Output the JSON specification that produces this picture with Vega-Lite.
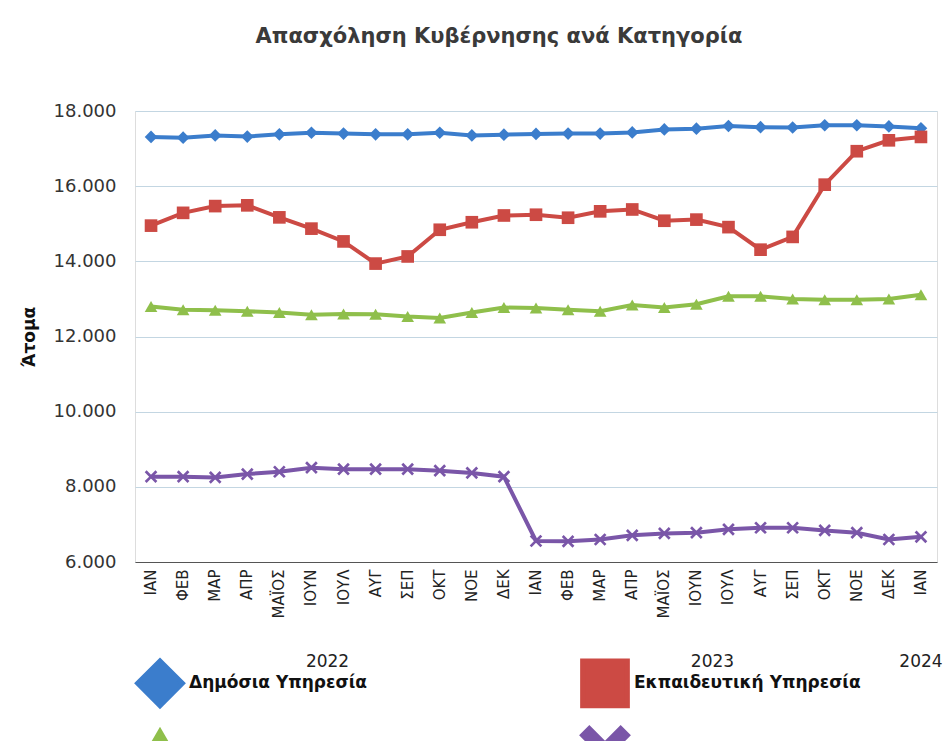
{
  "$schema": "https://vega.github.io/schema/vega-lite/v6.json",
  "width": 802,
  "height": 451,
  "padding": {"left": 20, "top": 26, "right": 9, "bottom": 0},
  "title": {
    "text": "Απασχόληση Κυβέρνησης ανά Κατηγορία",
    "font": "DejaVu Sans",
    "fontSize": 21,
    "fontWeight": "bold",
    "color": "#3a3a3a",
    "offset": 55,
    "dx": -37
  },
  "datasets": {
    "rows": [
      {"period": "2022-01", "series": "Δημόσια Υπηρεσία", "value": 17310},
      {"period": "2022-02", "series": "Δημόσια Υπηρεσία", "value": 17290},
      {"period": "2022-03", "series": "Δημόσια Υπηρεσία", "value": 17350},
      {"period": "2022-04", "series": "Δημόσια Υπηρεσία", "value": 17320},
      {"period": "2022-05", "series": "Δημόσια Υπηρεσία", "value": 17380},
      {"period": "2022-06", "series": "Δημόσια Υπηρεσία", "value": 17420},
      {"period": "2022-07", "series": "Δημόσια Υπηρεσία", "value": 17400},
      {"period": "2022-08", "series": "Δημόσια Υπηρεσία", "value": 17380},
      {"period": "2022-09", "series": "Δημόσια Υπηρεσία", "value": 17380},
      {"period": "2022-10", "series": "Δημόσια Υπηρεσία", "value": 17420},
      {"period": "2022-11", "series": "Δημόσια Υπηρεσία", "value": 17350},
      {"period": "2022-12", "series": "Δημόσια Υπηρεσία", "value": 17370},
      {"period": "2023-01", "series": "Δημόσια Υπηρεσία", "value": 17390},
      {"period": "2023-02", "series": "Δημόσια Υπηρεσία", "value": 17400},
      {"period": "2023-03", "series": "Δημόσια Υπηρεσία", "value": 17400},
      {"period": "2023-04", "series": "Δημόσια Υπηρεσία", "value": 17430},
      {"period": "2023-05", "series": "Δημόσια Υπηρεσία", "value": 17510},
      {"period": "2023-06", "series": "Δημόσια Υπηρεσία", "value": 17530},
      {"period": "2023-07", "series": "Δημόσια Υπηρεσία", "value": 17600},
      {"period": "2023-08", "series": "Δημόσια Υπηρεσία", "value": 17570},
      {"period": "2023-09", "series": "Δημόσια Υπηρεσία", "value": 17560},
      {"period": "2023-10", "series": "Δημόσια Υπηρεσία", "value": 17620},
      {"period": "2023-11", "series": "Δημόσια Υπηρεσία", "value": 17620},
      {"period": "2023-12", "series": "Δημόσια Υπηρεσία", "value": 17590},
      {"period": "2024-01", "series": "Δημόσια Υπηρεσία", "value": 17540},
      {"period": "2022-01", "series": "Εκπαιδευτική Υπηρεσία", "value": 14950},
      {"period": "2022-02", "series": "Εκπαιδευτική Υπηρεσία", "value": 15290},
      {"period": "2022-03", "series": "Εκπαιδευτική Υπηρεσία", "value": 15470},
      {"period": "2022-04", "series": "Εκπαιδευτική Υπηρεσία", "value": 15490},
      {"period": "2022-05", "series": "Εκπαιδευτική Υπηρεσία", "value": 15170},
      {"period": "2022-06", "series": "Εκπαιδευτική Υπηρεσία", "value": 14870},
      {"period": "2022-07", "series": "Εκπαιδευτική Υπηρεσία", "value": 14530},
      {"period": "2022-08", "series": "Εκπαιδευτική Υπηρεσία", "value": 13940},
      {"period": "2022-09", "series": "Εκπαιδευτική Υπηρεσία", "value": 14130},
      {"period": "2022-10", "series": "Εκπαιδευτική Υπηρεσία", "value": 14840},
      {"period": "2022-11", "series": "Εκπαιδευτική Υπηρεσία", "value": 15040},
      {"period": "2022-12", "series": "Εκπαιδευτική Υπηρεσία", "value": 15220},
      {"period": "2023-01", "series": "Εκπαιδευτική Υπηρεσία", "value": 15240},
      {"period": "2023-02", "series": "Εκπαιδευτική Υπηρεσία", "value": 15160},
      {"period": "2023-03", "series": "Εκπαιδευτική Υπηρεσία", "value": 15330},
      {"period": "2023-04", "series": "Εκπαιδευτική Υπηρεσία", "value": 15380},
      {"period": "2023-05", "series": "Εκπαιδευτική Υπηρεσία", "value": 15080},
      {"period": "2023-06", "series": "Εκπαιδευτική Υπηρεσία", "value": 15110},
      {"period": "2023-07", "series": "Εκπαιδευτική Υπηρεσία", "value": 14910},
      {"period": "2023-08", "series": "Εκπαιδευτική Υπηρεσία", "value": 14310},
      {"period": "2023-09", "series": "Εκπαιδευτική Υπηρεσία", "value": 14650},
      {"period": "2023-10", "series": "Εκπαιδευτική Υπηρεσία", "value": 16040},
      {"period": "2023-11", "series": "Εκπαιδευτική Υπηρεσία", "value": 16930},
      {"period": "2023-12", "series": "Εκπαιδευτική Υπηρεσία", "value": 17220},
      {"period": "2024-01", "series": "Εκπαιδευτική Υπηρεσία", "value": 17310},
      {"period": "2022-01", "series": "Δυνάμεις Ασφαλείας", "value": 12800},
      {"period": "2022-02", "series": "Δυνάμεις Ασφαλείας", "value": 12710},
      {"period": "2022-03", "series": "Δυνάμεις Ασφαλείας", "value": 12700},
      {"period": "2022-04", "series": "Δυνάμεις Ασφαλείας", "value": 12670},
      {"period": "2022-05", "series": "Δυνάμεις Ασφαλείας", "value": 12640},
      {"period": "2022-06", "series": "Δυνάμεις Ασφαλείας", "value": 12580},
      {"period": "2022-07", "series": "Δυνάμεις Ασφαλείας", "value": 12600},
      {"period": "2022-08", "series": "Δυνάμεις Ασφαλείας", "value": 12590},
      {"period": "2022-09", "series": "Δυνάμεις Ασφαλείας", "value": 12530},
      {"period": "2022-10", "series": "Δυνάμεις Ασφαλείας", "value": 12490},
      {"period": "2022-11", "series": "Δυνάμεις Ασφαλείας", "value": 12640},
      {"period": "2022-12", "series": "Δυνάμεις Ασφαλείας", "value": 12770},
      {"period": "2023-01", "series": "Δυνάμεις Ασφαλείας", "value": 12760},
      {"period": "2023-02", "series": "Δυνάμεις Ασφαλείας", "value": 12710},
      {"period": "2023-03", "series": "Δυνάμεις Ασφαλείας", "value": 12670},
      {"period": "2023-04", "series": "Δυνάμεις Ασφαλείας", "value": 12840},
      {"period": "2023-05", "series": "Δυνάμεις Ασφαλείας", "value": 12770},
      {"period": "2023-06", "series": "Δυνάμεις Ασφαλείας", "value": 12860},
      {"period": "2023-07", "series": "Δυνάμεις Ασφαλείας", "value": 13070},
      {"period": "2023-08", "series": "Δυνάμεις Ασφαλείας", "value": 13070},
      {"period": "2023-09", "series": "Δυνάμεις Ασφαλείας", "value": 13000},
      {"period": "2023-10", "series": "Δυνάμεις Ασφαλείας", "value": 12980},
      {"period": "2023-11", "series": "Δυνάμεις Ασφαλείας", "value": 12980},
      {"period": "2023-12", "series": "Δυνάμεις Ασφαλείας", "value": 13000},
      {"period": "2024-01", "series": "Δυνάμεις Ασφαλείας", "value": 13110},
      {"period": "2022-01", "series": "Ωρομίσθιο Προσωπικό", "value": 8270},
      {"period": "2022-02", "series": "Ωρομίσθιο Προσωπικό", "value": 8270},
      {"period": "2022-03", "series": "Ωρομίσθιο Προσωπικό", "value": 8250},
      {"period": "2022-04", "series": "Ωρομίσθιο Προσωπικό", "value": 8340},
      {"period": "2022-05", "series": "Ωρομίσθιο Προσωπικό", "value": 8400},
      {"period": "2022-06", "series": "Ωρομίσθιο Προσωπικό", "value": 8510},
      {"period": "2022-07", "series": "Ωρομίσθιο Προσωπικό", "value": 8470},
      {"period": "2022-08", "series": "Ωρομίσθιο Προσωπικό", "value": 8470},
      {"period": "2022-09", "series": "Ωρομίσθιο Προσωπικό", "value": 8470},
      {"period": "2022-10", "series": "Ωρομίσθιο Προσωπικό", "value": 8430},
      {"period": "2022-11", "series": "Ωρομίσθιο Προσωπικό", "value": 8370},
      {"period": "2022-12", "series": "Ωρομίσθιο Προσωπικό", "value": 8270},
      {"period": "2023-01", "series": "Ωρομίσθιο Προσωπικό", "value": 6560},
      {"period": "2023-02", "series": "Ωρομίσθιο Προσωπικό", "value": 6550},
      {"period": "2023-03", "series": "Ωρομίσθιο Προσωπικό", "value": 6600},
      {"period": "2023-04", "series": "Ωρομίσθιο Προσωπικό", "value": 6710},
      {"period": "2023-05", "series": "Ωρομίσθιο Προσωπικό", "value": 6760},
      {"period": "2023-06", "series": "Ωρομίσθιο Προσωπικό", "value": 6780},
      {"period": "2023-07", "series": "Ωρομίσθιο Προσωπικό", "value": 6870},
      {"period": "2023-08", "series": "Ωρομίσθιο Προσωπικό", "value": 6910},
      {"period": "2023-09", "series": "Ωρομίσθιο Προσωπικό", "value": 6910},
      {"period": "2023-10", "series": "Ωρομίσθιο Προσωπικό", "value": 6840},
      {"period": "2023-11", "series": "Ωρομίσθιο Προσωπικό", "value": 6780},
      {"period": "2023-12", "series": "Ωρομίσθιο Προσωπικό", "value": 6600},
      {"period": "2024-01", "series": "Ωρομίσθιο Προσωπικό", "value": 6670}
    ],
    "years": [
      {"period": "2022-07", "year": "2022"},
      {"period": "2023-07", "year": "2023"}
    ],
    "lastyear": [
      {"period": "2024-01", "year": "2024"}
    ]
  },
  "data": {"name": "rows"},
  "layer": [
    {
      "mark": {"type": "line", "strokeWidth": 4},
      "encoding": {
        "x": {
          "field": "period",
          "type": "ordinal",
          "scale": {"type": "band", "paddingInner": 0, "paddingOuter": 0},
          "axis": {
            "title": null,
            "grid": false,
            "ticks": false,
            "domainColor": "#555555",
            "labelAngle": -90,
            "labelFont": "DejaVu Sans",
            "labelFontSize": 15,
            "labelColor": "#222222",
            "labelPadding": 7,
            "labelExpr": "['ΙΑΝ','ΦΕΒ','ΜΑΡ','ΑΠΡ','ΜΑΪΟΣ','ΙΟΥΝ','ΙΟΥΛ','ΑΥΓ','ΣΕΠ','ΟΚΤ','ΝΟΕ','ΔΕΚ'][toNumber(slice(datum.value, 5)) - 1]"
          }
        },
        "y": {
          "field": "value",
          "type": "quantitative",
          "scale": {"domain": [6000, 18000], "nice": false, "zero": false},
          "axis": {
            "title": "Άτομα",
            "titleFont": "DejaVu Sans",
            "titleFontSize": 17,
            "titleFontWeight": "bold",
            "titleColor": "#111111",
            "titlePadding": 15,
            "values": [6000, 8000, 10000, 12000, 14000, 16000, 18000],
            "labelExpr": "replace(format(datum.value, ','), ',', '.')",
            "labelFont": "DejaVu Sans",
            "labelFontSize": 18,
            "labelColor": "#333333",
            "labelPadding": 19,
            "ticks": false,
            "domain": false,
            "gridColor": "#c3d6e2"
          }
        },
        "color": {
          "field": "series",
          "type": "nominal",
          "scale": {
            "domain": ["Δημόσια Υπηρεσία", "Εκπαιδευτική Υπηρεσία", "Δυνάμεις Ασφαλείας", "Ωρομίσθιο Προσωπικό"],
            "range": ["#3b7dcc", "#cc4a44", "#8fbf4b", "#7a56a8"]
          },
          "legend": {
            "orient": "bottom",
            "title": null,
            "columns": 2,
            "columnPadding": 190,
            "offset": 40,
            "symbolType": "stroke",
            "symbolSize": 2000,
            "symbolStrokeWidth": 5,
            "labelFont": "DejaVu Sans",
            "labelFontSize": 17,
            "labelFontWeight": "bold",
            "labelColor": "#111111",
            "labelLimit": 400
          }
        }
      }
    },
    {
      "mark": {"type": "point", "filled": true, "opacity": 1, "size": 160},
      "encoding": {
        "x": {"field": "period", "type": "ordinal"},
        "y": {"field": "value", "type": "quantitative"},
        "color": {"field": "series", "type": "nominal", "legend": null},
        "shape": {
          "field": "series",
          "type": "nominal",
          "scale": {
            "domain": ["Δημόσια Υπηρεσία", "Εκπαιδευτική Υπηρεσία", "Δυνάμεις Ασφαλείας", "Ωρομίσθιο Προσωπικό"],
            "range": ["diamond", "square", "triangle-up", "M-1,-0.7L-0.7,-1L0,-0.3L0.7,-1L1,-0.7L0.3,0L1,0.7L0.7,1L0,0.3L-0.7,1L-1,0.7L-0.3,0Z"]
          },
          "legend": null
        }
      }
    },
    {
      "data": {"name": "years"},
      "mark": {"type": "text", "dx": -16, "dy": 100, "font": "DejaVu Sans", "fontSize": 17, "color": "#222222", "align": "center", "baseline": "middle"},
      "encoding": {
        "x": {"field": "period", "type": "ordinal"},
        "y": {"datum": 6000, "type": "quantitative"},
        "text": {"field": "year", "type": "nominal"}
      }
    },
    {
      "data": {"name": "lastyear"},
      "mark": {"type": "text", "dy": 100, "font": "DejaVu Sans", "fontSize": 17, "color": "#222222", "align": "center", "baseline": "middle"},
      "encoding": {
        "x": {"field": "period", "type": "ordinal"},
        "y": {"datum": 6000, "type": "quantitative"},
        "text": {"field": "year", "type": "nominal"}
      }
    }
  ]
}
